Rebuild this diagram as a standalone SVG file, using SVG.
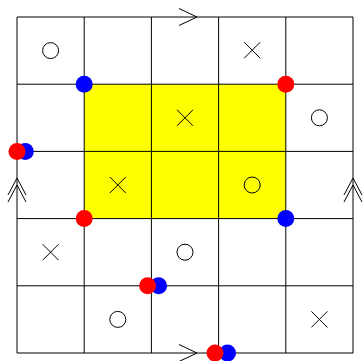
<svg xmlns="http://www.w3.org/2000/svg" width="363" height="361" viewBox="0 0 363 361">
<style>
.g{stroke:#000;stroke-width:1;fill:none}
.s{stroke:#000;stroke-width:1;fill:none}
.r{fill:#ff0000}
.b{fill:#0000ff}
</style>
<rect width="363" height="361" fill="#fff"/>
<rect id="region" x="84.2" y="84.2" width="201.6" height="134.4" fill="#ffff00"/>
<g id="connectors">
<g class="g">
<line x1="17" y1="17" x2="353" y2="17"/>
<line x1="17" y1="84.2" x2="353" y2="84.2"/>
<line x1="17" y1="151.4" x2="353" y2="151.4"/>
<line x1="17" y1="218.6" x2="353" y2="218.6"/>
<line x1="17" y1="285.8" x2="353" y2="285.8"/>
<line x1="17" y1="353" x2="353" y2="353"/>
<line x1="17" y1="17" x2="17" y2="353"/>
<line x1="84.2" y1="17" x2="84.2" y2="353"/>
<line x1="151.4" y1="17" x2="151.4" y2="353"/>
<line x1="218.6" y1="17" x2="218.6" y2="353"/>
<line x1="285.8" y1="17" x2="285.8" y2="353"/>
<line x1="353" y1="17" x2="353" y2="353"/>
</g>
<g class="s">
<polyline points="179,8.5 197,17 179,25.5"/>
<polyline points="179,344.5 197,353 179,361.5"/>
<polyline points="8,195 17,178 26,195"/>
<polyline points="8,202 17,185 26,202"/>
<polyline points="344,195 353,178 362,195"/>
<polyline points="344,202 353,185 362,202"/>
</g>
</g>
<g id="symbols" class="s">
<g id="c1"><circle cx="50.6" cy="50.6" r="8"/></g>
<g id="x1"><path d="M244.2,42.2 L260.2,58.2 M260.2,42.2 L244.2,58.2"/></g>
<g id="x2"><path d="M177,109.8 L193,125.8 M193,109.8 L177,125.8"/></g>
<g id="c2"><circle cx="319.4" cy="117.8" r="8"/></g>
<g id="x3"><path d="M109.8,177 L125.8,193 M125.8,177 L109.8,193"/></g>
<g id="c3"><circle cx="252.2" cy="185" r="8"/></g>
<g id="x4"><path d="M42.6,244.2 L58.6,260.2 M58.6,244.2 L42.6,260.2"/></g>
<g id="c4"><circle cx="185" cy="252.2" r="8"/></g>
<g id="c5"><circle cx="117.8" cy="319.4" r="8"/></g>
<g id="x5"><path d="M311.4,311.4 L327.4,327.4 M327.4,311.4 L311.4,327.4"/></g>
</g>
<g id="dots">
<g id="d1"><circle class="b" cx="84.2" cy="84.2" r="8.5"/></g>
<g id="d2"><circle class="r" cx="285.8" cy="84.2" r="8.5"/></g>
<g id="d3"><circle class="r" cx="84.2" cy="218.6" r="8.5"/></g>
<g id="d4"><circle class="b" cx="285.8" cy="218.6" r="8.5"/></g>
<g id="d5"><circle class="b" cx="25.3" cy="151.4" r="8.5"/><circle class="r" cx="17" cy="151.4" r="8.5"/></g>
<g id="d6"><circle class="b" cx="158.6" cy="285.8" r="8.5"/><circle class="r" cx="147.6" cy="285.8" r="8.5"/></g>
<g id="d7"><circle class="b" cx="227.5" cy="353" r="8.5"/><circle class="r" cx="215" cy="353" r="8.5"/></g>
</g>
</svg>
